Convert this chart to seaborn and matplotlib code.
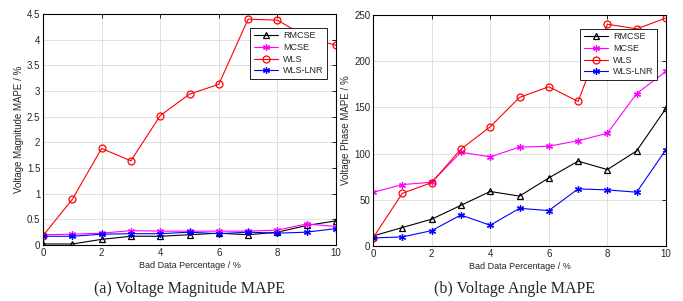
import numpy as np
import pandas as pd
import matplotlib
matplotlib.use("Agg")
import matplotlib.pyplot as plt
import seaborn as sns

bad_pct = [0, 1, 2, 3, 4, 5, 6, 7, 8, 9, 10]
methods = ["RMCSE", "MCSE", "WLS", "WLS-LNR"]

# voltage magnitude MAPE / %
mag_rmcse = [0.02, 0.02, 0.11, 0.17, 0.17, 0.20, 0.23, 0.20, 0.25, 0.38, 0.47]
mag_mcse = [0.20, 0.21, 0.23, 0.28, 0.27, 0.27, 0.27, 0.27, 0.29, 0.41, 0.36]
mag_wls = [0.18, 0.89, 1.88, 1.64, 2.52, 2.94, 3.13, 4.40, 4.38, 4.05, 3.89]
mag_lnr = [0.17, 0.17, 0.21, 0.22, 0.22, 0.25, 0.22, 0.25, 0.23, 0.25, 0.32]

# voltage phase MAPE / %
ang_rmcse = [10.8, 20, 29, 44, 59, 54, 73.7, 91.8, 82.7, 103, 149]
ang_mcse = [58, 66.5, 69, 101.5, 96.5, 107, 108, 114, 122, 165, 189]
ang_wls = [8.7, 57, 68.6, 104.8, 129, 160.8, 172.3, 156.4, 240, 235, 246.7]
ang_lnr = [8.7, 9.8, 16.6, 33.6, 22.4, 40.8, 38.3, 61.8, 60.7, 58.2, 104.4]

styles = {
    "RMCSE": dict(color="black", marker="^", markerfacecolor="none", markeredgecolor="black", markersize=5),
    "MCSE": dict(color="#ff00ff", marker=(6, 2, 0), markeredgecolor="#ff00ff", markersize=5),
    "WLS": dict(color="red", marker="o", markerfacecolor="none", markeredgecolor="red", markersize=5),
    "WLS-LNR": dict(color="blue", marker=(6, 2, 0), markeredgecolor="blue", markersize=5),
}

sns.set_style("whitegrid")
plt.rcParams['font.family'] = ['Liberation Sans', 'DejaVu Sans']

fig = plt.figure(figsize=(6.83, 3.01), dpi=100)
ax1 = fig.add_axes([43 / 683, 56 / 301, 293 / 683, 231 / 301])
ax2 = fig.add_axes([373 / 683, 55 / 301, 293 / 683, 231 / 301])


def draw(ax, series, ylabel, ymax, yticks):
    for name, vals in zip(methods, series):
        sns.lineplot(x=bad_pct, y=vals, ax=ax, label=name, linewidth=0.8,
                     markeredgewidth=0.9, **styles[name])
    ax.set_xlim(0, 10)
    ax.set_ylim(0, ymax)
    ax.set_xticks([0, 2, 4, 6, 8, 10])
    ax.set_yticks(yticks)
    ax.set_yticklabels([f"{t:g}" for t in yticks])
    ax.grid(True, color="#dcdcdc", linewidth=0.6)
    for s in ax.spines.values():
        s.set_color("black")
        s.set_linewidth(0.8)
    ax.tick_params(direction="in", length=3, width=0.6, labelsize=7,
                   top=True, right=True, colors="black", pad=2)
    ax.tick_params(labelcolor="#262626")
    ax.set_xlabel("Bad Data Percentage / %", fontsize=6.5, color="#262626", labelpad=2)
    ax.set_ylabel(ylabel, fontsize=7, color="#262626", labelpad=2)
    leg = ax.legend(loc="upper right", bbox_to_anchor=(0.985, 0.96), fontsize=6.5,
                    frameon=True, fancybox=False, framealpha=1,
                    handlelength=2.6, handletextpad=0.6, borderpad=0.4, labelspacing=0.3)
    leg.get_frame().set_edgecolor("black")
    leg.get_frame().set_linewidth(0.6)


draw(ax1, [mag_rmcse, mag_mcse, mag_wls, mag_lnr], "Voltage Magnitude MAPE / %",
     4.5, [0, 0.5, 1, 1.5, 2, 2.5, 3, 3.5, 4, 4.5])
draw(ax2, [ang_rmcse, ang_mcse, ang_wls, ang_lnr], "Voltage Phase MAPE / %",
     250, [0, 50, 100, 150, 200, 250])

fig.text(190 / 683, 1 - 289 / 301, "(a) Voltage Magnitude MAPE", ha="center", va="center",
         fontsize=11.5, family=["Liberation Serif", "DejaVu Serif"])
fig.text(515 / 683, 1 - 289 / 301, "(b) Voltage Angle MAPE", ha="center", va="center",
         fontsize=11.5, family=["Liberation Serif", "DejaVu Serif"])

fig.savefig("out.png", dpi=100)
